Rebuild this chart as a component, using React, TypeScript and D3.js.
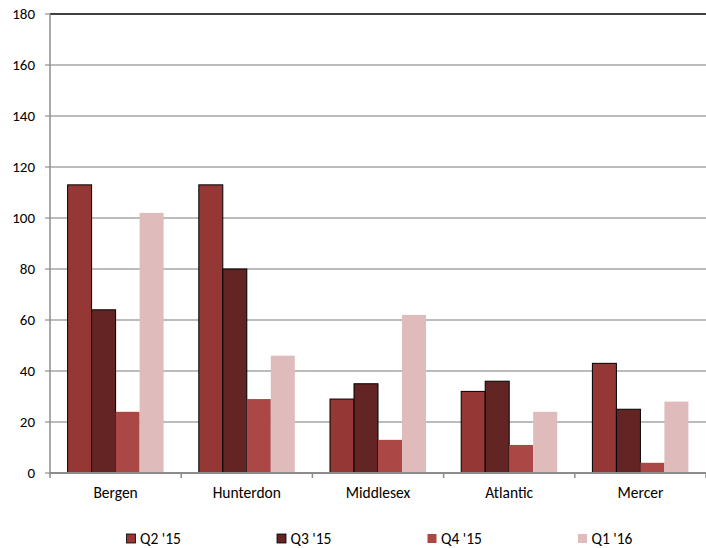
import React from "react";
import * as d3 from "d3";

const categories = ["Bergen", "Hunterdon", "Middlesex", "Atlantic", "Mercer"];
const seriesNames = ["Q2 '15", "Q3 '15", "Q4 '15", "Q1 '16"];
const q2_15 = [113, 113, 29, 32, 43];
const q3_15 = [64, 80, 35, 36, 25];
const q4_15 = [24, 29, 13, 11, 4];
const q1_16 = [102, 46, 62, 24, 28];
const yTicks = [0, 20, 40, 60, 80, 100, 120, 140, 160, 180];

const seriesValues = [q2_15, q3_15, q4_15, q1_16];
const colors = ["#953735", "#632523", "#ab4846", "#e0bbbb"];
const strokes = ["#000", "#000", "none", "none"];

const W = 706, H = 548;
const M = { left: 50, right: 706, top: 14, bottom: 473 };
const font = "Carlito, Calibri, 'Open Sans', sans-serif";

export default function App() {
  const x = d3.scaleBand().domain(categories).range([M.left, M.right]).paddingInner(0).paddingOuter(0);
  const y = d3.scaleLinear().domain([0, 180]).range([M.bottom, M.top]);
  const bw = x.bandwidth();
  const barW = 24;
  const groupW = barW * seriesNames.length;
  const inner = d3.scaleBand().domain(seriesNames).range([0, groupW]);
  const legendX = d3.scaleBand().domain(seriesNames).range([126, 728]);

  return (
    <svg width={W} height={H} style={{ position: "absolute", left: 0, top: 0, background: "#fff" }}>
      {yTicks.map((t) => (
        <g key={t}>
          {t > 0 && t < 180 && (
            <line x1={M.left} x2={M.right} y1={y(t)} y2={y(t)} stroke="#a6a6a6" strokeWidth={1.5} />
          )}
          <line x1={45} x2={M.left} y1={y(t)} y2={y(t)} stroke="#a6a6a6" strokeWidth={1.5} />
          <text x={35} y={y(t)} dy="0.35em" textAnchor="end" fontFamily={font} fontSize={15} fill="#000">
            {t}
          </text>
        </g>
      ))}
      <line x1={M.left} x2={M.right} y1={y(180)} y2={y(180)} stroke="#000" strokeWidth={1.5} />
      <line x1={M.left} x2={M.left} y1={M.top} y2={M.bottom} stroke="#8c8c8c" strokeWidth={1.5} />
      {categories.map((c, i) => {
        const gx = (x(c) as number) + (bw - groupW) / 2;
        return (
          <g key={c}>
            {seriesNames.map((s, j) => {
              const v = seriesValues[j][i];
              return (
                <rect
                  key={s}
                  x={gx + (inner(s) as number)}
                  y={y(v)}
                  width={inner.bandwidth()}
                  height={y(0) - y(v)}
                  fill={colors[j]}
                  stroke={strokes[j]}
                  strokeWidth={1}
                />
              );
            })}
            <text x={(x(c) as number) + bw / 2} y={498} textAnchor="middle" fontFamily={font} fontSize={15.5} fill="#000">
              {c}
            </text>
          </g>
        );
      })}
      <line x1={M.left} x2={M.right} y1={M.bottom} y2={M.bottom} stroke="#8c8c8c" strokeWidth={2} />
      {categories.map((c) => (
        <line key={c} x1={(x(c) as number) + bw} x2={(x(c) as number) + bw} y1={M.bottom} y2={M.bottom + 5} stroke="#8c8c8c" strokeWidth={1.5} />
      ))}
      <line x1={M.left} x2={M.left} y1={M.bottom} y2={M.bottom + 5} stroke="#8c8c8c" strokeWidth={1.5} />
      {seriesNames.map((s, j) => {
        const lx = legendX(s) as number;
        return (
          <g key={s}>
            <rect x={lx + 0.5} y={534} width={9} height={9} fill={colors[j]} stroke={j < 2 ? "#000" : "none"} strokeWidth={0.8} />
            <text x={lx + 14} y={538.5} dy="0.35em" fontFamily={font} fontSize={15.5} fill="#000">
              {s}
            </text>
          </g>
        );
      })}
    </svg>
  );
}
